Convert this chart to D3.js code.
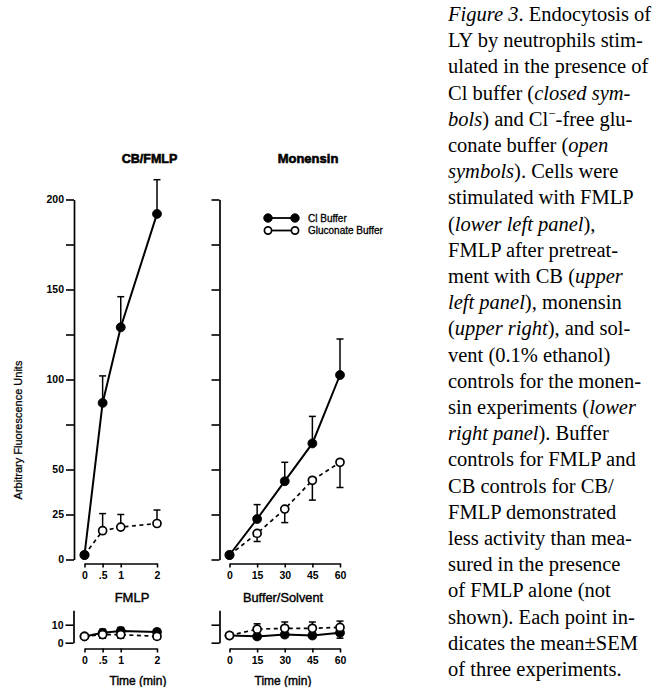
<!DOCTYPE html>
<html><head><meta charset="utf-8">
<script src="https://cdn.jsdelivr.net/npm/d3@7"></script>
<style>html,body{margin:0;padding:0;background:#fff;}svg{display:block;}</style>
</head><body>
<svg id="c" width="652" height="687"></svg>
<script>
// ---------- data ----------
const timesFMLP = [0, 0.5, 1, 2];
const timesMon = [0, 15, 30, 45, 60];
const tickLabelsFMLP = ["0", ".5", "1", "2"];
const tickLabelsMon = ["0", "15", "30", "45", "60"];
const yTicksMain = [0, 25, 50, 75, 100, 125, 150, 175, 200];
const yLabelsMain = [0, 25, 50, 100, 150, 200];
const yTicksSmall = [0, 10];

// CB/FMLP (upper left)
const cbClosed = [2.5, 87, 129, 192];
const cbClosedErr = [0, 15, 17, 19];
const cbOpen = [2.5, 16, 18, 20];
const cbOpenErr = [0, 9.5, 7, 7.5];
// Monensin (upper right)
const monClosed = [2.5, 22.5, 43.5, 64.5, 102.5];
const monClosedErr = [0, 8, 10.5, 15, 20];
const monOpen = [2.5, 14.5, 28, 44, 54];
const monOpenErr = [0, 4.5, 7.5, 11, 14];
// FMLP (lower left)
const fmlpClosed = [3.5, 5.5, 6.5, 6];
const fmlpClosedErr = [0, 2, 2, 1.5];
const fmlpOpen = [3.5, 4.5, 4.5, 3.5];
const fmlpOpenErr = [0, 2, 2, 1.5];
// Buffer/Solvent (lower right)
const bufClosed = [4, 3.5, 4.5, 4, 5.5];
const bufClosedErr = [0, 1.5, 1.5, 1.5, 3];
const bufOpen = [4, 7.5, 8, 8, 8.5];
const bufOpenErr = [0, 3, 3.5, 3.5, 3.5];

const legendLabels = ["Cl Buffer", "Gluconate Buffer"];
const panelTitles = ["CB/FMLP", "Monensin"];
const lowerTitles = ["FMLP", "Buffer/Solvent"];
const xTitle = "Time (min)";
const yTitle = "Arbitrary Fluorescence Units";

const captionLines = [
  [["Figure 3", 1], [". Endocytosis of", 0]],
  [["LY by neutrophils stim-", 0]],
  [["ulated in the presence of", 0]],
  [["Cl buffer (", 0], ["closed sym-", 1]],
  [["bols", 1], [") and Cl", 0], ["\u2212", 2], ["-free glu-", 0]],
  [["conate buffer (", 0], ["open", 1]],
  [["symbols", 1], ["). Cells were", 0]],
  [["stimulated with FMLP", 0]],
  [["(", 0], ["lower left panel", 1], ["),", 0]],
  [["FMLP after pretreat-", 0]],
  [["ment with CB (", 0], ["upper", 1]],
  [["left panel", 1], ["), monensin", 0]],
  [["(", 0], ["upper right", 1], ["), and sol-", 0]],
  [["vent (0.1% ethanol)", 0]],
  [["controls for the monen-", 0]],
  [["sin experiments (", 0], ["lower", 1]],
  [["right panel", 1], ["). Buffer", 0]],
  [["controls for FMLP and", 0]],
  [["CB controls for CB/", 0]],
  [["FMLP demonstrated", 0]],
  [["less activity than mea-", 0]],
  [["sured in the presence", 0]],
  [["of FMLP alone (not", 0]],
  [["shown). Each point in-", 0]],
  [["dicates the mean\u00B1SEM", 0]],
  [["of three experiments.", 0]]
];

// ---------- drawing ----------
const svg = d3.select("#c");
svg.append("rect").attr("width", 652).attr("height", 687).attr("fill", "#fff");
const SANS = "'Liberation Sans', Arial, Helvetica, sans-serif";

const yMain = d3.scaleLinear().domain([0, 200]).range([559.5, 199.5]);
const ySmall = d3.scaleLinear().domain([0, 18]).range([642.7, 610.3]);
const xF = d3.scaleLinear().domain([0, 2]).range([84.5, 157]);
const xM = d3.scaleLinear().domain([0, 60]).range([229.5, 340]);

function styleAxis(g) {
  g.selectAll("path.domain").attr("stroke", "#000").attr("stroke-width", 1.7);
  g.selectAll(".tick line").attr("stroke", "#000").attr("stroke-width", 1.6);
  g.selectAll(".tick text").attr("fill", "#000").attr("font-family", SANS)
    .attr("font-weight", "bold").attr("font-size", 10.5);
}

function yAxis(scale, axisX, ticks, labels) {
  const ax = d3.axisLeft(scale).tickValues(ticks).tickSize(8).tickSizeOuter(0).tickPadding(2)
    .tickFormat(d => labels && labels.includes(d) ? String(d) : "");
  const g = svg.append("g").attr("transform", `translate(${axisX},0)`).call(ax);
  styleAxis(g);
}
function xAxis(scale, axisY, ticks, labels) {
  const ax = d3.axisBottom(scale).tickValues(ticks).tickSize(4).tickSizeOuter(0).tickPadding(4)
    .tickFormat((d, i) => labels[i]);
  const g = svg.append("g").attr("transform", `translate(0,${axisY})`).call(ax);
  styleAxis(g);
}

yAxis(yMain, 74, yTicksMain, yLabelsMain);
yAxis(yMain, 219.5, yTicksMain, null);
yAxis(ySmall, 73.5, yTicksSmall, yTicksSmall);
yAxis(ySmall, 219.5, yTicksSmall, null);
xAxis(xF, 563.5, timesFMLP, tickLabelsFMLP);
xAxis(xM, 563.5, timesMon, tickLabelsMon);
xAxis(xF, 648.5, timesFMLP, tickLabelsFMLP);
xAxis(xM, 648.5, timesMon, tickLabelsMon);

function series(xs, ys, errs, dir, x, y, open) {
  const pts = xs.map((t, i) => ({ t, v: ys[i], e: errs[i] }));
  const g = svg.append("g");
  pts.filter(p => p.e > 0).forEach(p => {
    const y0 = y(p.v), y1 = y(p.v + dir * p.e), cx = x(p.t);
    g.append("line").attr("x1", cx).attr("x2", cx).attr("y1", y0).attr("y2", y1)
      .attr("stroke", "#000").attr("stroke-width", 1.5);
    g.append("line").attr("x1", cx - 3.5).attr("x2", cx + 3.5).attr("y1", y1).attr("y2", y1)
      .attr("stroke", "#000").attr("stroke-width", 1.5);
  });
  const line = d3.line().x(p => x(p.t)).y(p => y(p.v));
  g.append("path").attr("d", line(pts)).attr("fill", "none").attr("stroke", "#000")
    .attr("stroke-width", open ? 1.7 : 2)
    .attr("stroke-dasharray", open ? "4,3.5" : null);
  g.selectAll("circle").data(pts).join("circle")
    .attr("cx", p => x(p.t)).attr("cy", p => y(p.v))
    .attr("r", open ? 4 : 4.5)
    .attr("fill", open ? "#fff" : "#000")
    .attr("stroke", "#000").attr("stroke-width", open ? 1.7 : 0.8);
}

series(timesFMLP, cbOpen, cbOpenErr, 1, xF, yMain, true);
series(timesFMLP, cbClosed, cbClosedErr, 1, xF, yMain, false);
series(timesMon, monOpen, monOpenErr, -1, xM, yMain, true);
series(timesMon, monClosed, monClosedErr, 1, xM, yMain, false);
series(timesFMLP, fmlpClosed, fmlpClosedErr, 1, xF, ySmall, false);
series(timesFMLP, fmlpOpen, fmlpOpenErr, -1, xF, ySmall, true);
series(timesMon, bufClosed, bufClosedErr, -1, xM, ySmall, false);
series(timesMon, bufOpen, bufOpenErr, 1, xM, ySmall, true);

// legend
const leg = svg.append("g");
legendLabels.forEach((lab, i) => {
  const ly = 218 + i * 12.5;
  leg.append("line").attr("x1", 268).attr("x2", 295).attr("y1", ly).attr("y2", ly)
    .attr("stroke", "#000").attr("stroke-width", 1.8);
  [268, 295].forEach(cx => leg.append("circle").attr("cx", cx).attr("cy", ly)
    .attr("r", i === 0 ? 4.3 : 3.6).attr("fill", i === 0 ? "#000" : "#fff")
    .attr("stroke", "#000").attr("stroke-width", i === 0 ? 0.8 : 1.7));
  leg.append("text").attr("x", 308).attr("y", ly + 3.6).text(lab)
    .attr("font-family", SANS).attr("font-size", 10).attr("fill", "#000")
    .attr("stroke", "#000").attr("stroke-width", 0.3);
});

// titles
function label(txt, x, y, size, weight, sw, rot) {
  const t = svg.append("text").attr("text-anchor", "middle")
    .attr("font-family", SANS).attr("font-size", size).attr("font-weight", weight)
    .attr("fill", "#000").attr("stroke", "#000").attr("stroke-width", sw).text(txt);
  if (rot) t.attr("transform", `translate(${x},${y}) rotate(${rot})`);
  else t.attr("x", x).attr("y", y);
  return t;
}
label(panelTitles[0], 149.5, 162.5, 12.5, "bold", 0.6);
label(panelTitles[1], 308, 162.5, 13, "bold", 0.6);
label(lowerTitles[0], 132, 602, 13, "normal", 0.4);
label(lowerTitles[1], 283, 602, 12.8, "normal", 0.4);
label(xTitle, 138, 684.5, 12, "normal", 0.4);
label(xTitle, 283, 684.5, 12, "normal", 0.4);
label(yTitle, 22, 430, 11, "normal", 0.25, -90);

// caption
const cap = svg.append("g");
captionLines.forEach((segs, i) => {
  const t = cap.append("text").attr("x", 448).attr("y", 21 + i * 26.2)
    .attr("font-family", "'Liberation Serif', 'Times New Roman', serif")
    .attr("font-size", 20.5).attr("fill", "#000");
  segs.forEach(([s, k], j) => {
    const sp = t.append("tspan").text(s);
    if (k === 1) sp.attr("font-style", "italic");
    if (k === 2) sp.attr("font-size", 13).attr("dy", -8);
    else if (j > 0 && segs[j - 1][1] === 2) sp.attr("dy", 8);
  });
});
</script>
</body></html>
